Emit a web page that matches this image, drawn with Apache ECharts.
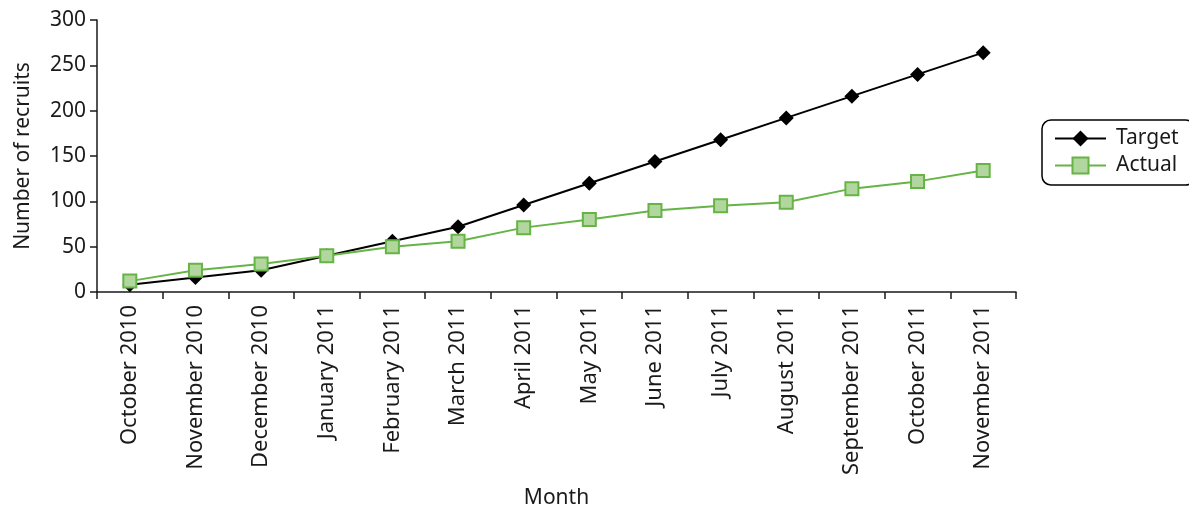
<!DOCTYPE html>
<html><head><meta charset="utf-8">
<script src="https://cdn.jsdelivr.net/npm/echarts@6/dist/echarts.min.js"></script>
<style>html,body{margin:0;padding:0;background:#fff;overflow:hidden}#c{width:1189px;height:508px}</style>
</head><body><div id="c"></div>
<script>
const categories = ["October 2010","November 2010","December 2010","January 2011","February 2011","March 2011","April 2011","May 2011","June 2011","July 2011","August 2011","September 2011","October 2011","November 2011"];
const targetValues = [8,16,24,40,56,72,96,120,144,168,192,216,240,264];
const actualValues = [12,24,31,40,50,56,71,80,90,95,99,114,122,134];
const yTicks = [0,50,100,150,200,250,300];

const font = "'Noto Sans', 'Open Sans', sans-serif";
const chart = echarts.init(document.getElementById('c'), null, {renderer:'canvas'});
chart.setOption({
  animation:false,
  backgroundColor:'#fff',
  grid:{left:97,right:173,top:20,bottom:216,containLabel:false,outerBoundsMode:'none'},
  legend:{
    orient:'vertical', left:1042, top:120,
    data:['Target','Actual'],
    itemWidth:51, itemHeight:20, itemGap:6,
    padding:[8,16,9,12],
    borderColor:'#000', borderWidth:1.5, borderRadius:9,
    textStyle:{fontFamily:font,fontSize:21,color:'#1a1a1a',padding:[0,0,0,5]}
  },
  xAxis:{
    type:'category', data:categories, boundaryGap:true,
    name:'Month', nameLocation:'middle', nameGap:196,
    nameTextStyle:{fontFamily:font,fontSize:21,color:'#1a1a1a'},
    axisLine:{lineStyle:{color:'#1a1a1a',width:1.5}},
    axisTick:{show:true,alignWithLabel:false,length:7,lineStyle:{color:'#1a1a1a',width:1.5}},
    axisLabel:{rotate:90,interval:0,fontFamily:font,fontSize:22,color:'#1a1a1a',margin:13}
  },
  yAxis:{
    type:'value', min:0, max:300, interval:50,
    name:'Number of recruits', nameLocation:'middle', nameGap:63,
    nameTextStyle:{fontFamily:font,fontSize:21,color:'#1a1a1a'},
    axisLine:{show:true,lineStyle:{color:'#1a1a1a',width:1.5}},
    axisTick:{show:true,length:7,lineStyle:{color:'#1a1a1a',width:1.5}},
    splitLine:{show:false},
    axisLabel:{fontFamily:font,fontSize:21,color:'#1a1a1a',margin:11,
      formatter:v=>yTicks.includes(v)?String(v):''}
  },
  series:[
    {name:'Target',type:'line',data:targetValues,symbol:'diamond',symbolSize:15,
     lineStyle:{color:'#000',width:2},itemStyle:{color:'#000'},z:2},
    {name:'Actual',type:'line',data:actualValues,symbol:'rect',symbolSize:13,
     lineStyle:{color:'#66b446',width:2},
     itemStyle:{color:'#b2d79e',borderColor:'#66b446',borderWidth:2},z:3}
  ]
});
</script></body></html>
